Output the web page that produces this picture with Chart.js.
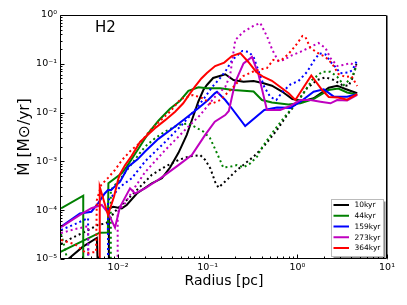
<!DOCTYPE html>
<html><head><meta charset="utf-8">
<script src="https://cdn.jsdelivr.net/npm/chart.js@4.4.0/dist/chart.umd.min.js"></script>
<style>html,body{margin:0;padding:0;background:#fff}canvas{display:block}</style>
</head><body>
<canvas id="c" width="407" height="305"></canvas>
<script>
const seriesLabels = ['10kyr','44kyr','159kyr','273kyr','364kyr'];
const seriesColors = ['#000000','#008000','#0000ff','#bf00bf','#ff0000'];
const xTickValues = [0.01, 0.1, 1, 10];
const yTickValues = [1e-5, 1e-4, 1e-3, 1e-2, 1e-1, 1];
const panelLabel = 'H2';

// 10 kyr
const r10s = [0.0026,0.00406,0.0058,0.0070,0.0079,0.0079,0.00886,0.011,0.0125,0.0162,0.0238,0.0308,0.038,0.0472,0.0584,0.0691,0.0785,0.0894,0.098,0.115,0.157,0.194,0.251,0.325,0.42,0.521,0.675,0.879,1.17,1.52,2.24,2.78,3.44,4.65];
const m10s = [9e-6,1.79e-5,2.7e-5,1e-9,1e-9,1.1e-4,1.18e-4,1.09e-4,1.28e-4,2.2e-4,3.56e-4,4.5e-4,7.5e-4,1.5e-3,3.5e-3,8.5e-3,0.0167,0.029,0.0368,0.0512,0.061,0.0466,0.043,0.0444,0.0398,0.0356,0.027,0.019,0.0173,0.0196,0.0324,0.0356,0.0305,0.0249];
const r10d = [0.00231,0.003,0.00425,0.00598,0.0074,0.00919,0.0104,0.0129,0.0169,0.0238,0.0335,0.0472,0.061,0.0824,0.0937,0.107,0.121,0.132,0.164,0.203,0.262,0.325,0.42,0.593,0.767,1.0,1.28,1.66,2.06,2.55,3.16,3.72,4.12,4.56];
const m10d = [2.03e-5,2.65e-5,3.6e-5,5.0e-5,5.4e-5,9.3e-5,1.18e-4,1.7e-4,2.8e-4,5.3e-4,7.8e-4,1.07e-3,1.25e-3,1.35e-3,1.07e-3,7.2e-4,3.8e-4,2.9e-4,4.2e-4,6.2e-4,9.1e-4,1.25e-3,2.0e-3,4.4e-3,8.9e-3,0.0167,0.0315,0.0466,0.0528,0.0466,0.0368,0.0351,0.0512,0.099];
// 44 kyr
const r44s = [0.00231,0.00409,0.00409,0.0022,0.0022,0.00625,0.0077,0.0078,0.011,0.0125,0.0168,0.0218,0.0282,0.038,0.0492,0.0609,0.079,0.098,0.138,0.194,0.325,0.403,0.521,0.793,1.08,1.51,2.22,2.87,3.59,4.64];
const m44s = [1.09e-4,1.98e-4,1e-9,1e-9,1.35e-5,3.46e-5,3.5e-5,3.56e-4,5.7e-4,7.8e-4,1.8e-3,3.8e-3,6.8e-3,0.012,0.0175,0.028,0.033,0.0315,0.0315,0.029,0.027,0.0181,0.0161,0.0147,0.0155,0.019,0.029,0.031,0.0258,0.0235];
const r44d = [0.00231,0.0025,0.0027,0.0027,0.0083,0.0083,0.0108,0.0136,0.0176,0.02,0.0258,0.0335,0.0472,0.061,0.0721,0.089,0.106,0.12,0.137,0.149,0.178,0.212,0.251,0.298,0.355,0.406,0.539,0.698,0.902,1.17,1.46,1.89,2.34,2.78,3.29,4.08,4.56];
const m44d = [3.25e-5,1.94e-5,1e-5,1e-9,1e-9,2.6e-4,4.6e-4,8.0e-4,1.5e-3,2.0e-3,2.97e-3,4.1e-3,5.6e-3,6.0e-3,5.1e-3,4.1e-3,3.0e-3,1.85e-3,1.07e-3,7.5e-4,7.8e-4,8.4e-4,7.6e-4,9.1e-4,1.25e-3,1.97e-3,4.1e-3,7.6e-3,0.0132,0.0249,0.0466,0.0689,0.0689,0.0544,0.0368,0.0524,0.090];
// 159 kyr
const r159s = [0.00231,0.00376,0.00504,0.00598,0.0071,0.00773,0.0084,0.00957,0.0105,0.013,0.0165,0.02,0.0282,0.0397,0.0558,0.0785,0.101,0.12,0.127,0.157,0.174,0.262,0.428,0.593,0.836,1.08,1.52,1.97,2.55,3.59,4.65];
const m159s = [4.6e-5,8.6e-5,9.3e-5,1.38e-4,2.2e-4,2.6e-4,2.6e-4,3.3e-4,3.8e-4,7.8e-4,1.1e-3,1.6e-3,2.9e-3,4.6e-3,7.5e-3,0.0123,0.0181,0.0248,0.0268,0.0181,0.0143,5.3e-3,0.0113,0.0127,0.0125,0.0167,0.0268,0.030,0.0212,0.0212,0.0237];
const r159d = [0.00231,0.00331,0.00463,0.00463,0.00773,0.00773,0.00886,0.0105,0.0142,0.02,0.0335,0.0515,0.0721,0.0937,0.112,0.138,0.161,0.188,0.243,0.287,0.325,0.376,0.428,0.499,0.582,0.679,0.836,1.03,1.28,1.55,1.76,2.06,2.34,2.66,3.02,3.74,4.12,4.56];
const m159d = [3.93e-5,5.2e-5,6.9e-5,1e-9,1e-9,1.6e-4,2.05e-4,3.0e-4,4.5e-4,1.0e-3,2.5e-3,5.6e-3,0.0113,0.0209,0.0335,0.0512,0.0746,0.12,0.183,0.175,0.138,0.0648,0.0335,0.0209,0.0181,0.0264,0.0377,0.0444,0.068,0.12,0.163,0.155,0.110,0.086,0.0638,0.0664,0.0746,0.110];
// 273 kyr
const r273s = [0.00231,0.00376,0.00504,0.00658,0.00773,0.00925,0.0105,0.0136,0.0155,0.02,0.0281,0.0335,0.0472,0.0665,0.0937,0.12,0.157,0.172,0.203,0.251,0.312,0.37,0.458,0.645,0.836,1.08,1.4,1.81,2.34,2.78,3.59,4.65];
const m273s = [4.5e-5,8.0e-5,1.1e-4,1.28e-4,8.8e-5,4.4e-5,1.16e-4,2.8e-4,2.2e-4,2.8e-4,4.2e-4,5.3e-4,8.4e-4,1.35e-3,3.5e-3,6.5e-3,8.9e-3,0.0108,0.0424,0.102,0.138,0.059,0.0113,0.0113,0.0137,0.0181,0.0181,0.0167,0.0155,0.0181,0.0177,0.023];
const r273d = [0.00231,0.00331,0.00463,0.0050,0.0099,0.0099,0.012,0.0155,0.02,0.0335,0.0558,0.0824,0.12,0.157,0.178,0.203,0.249,0.322,0.386,0.462,0.526,0.614,0.698,0.879,1.08,1.33,1.72,2.06,2.34,2.8,3.27,3.91,4.56];
const m273d = [3.4e-5,4.1e-5,4.7e-5,1e-9,1e-9,9.2e-5,1.4e-4,3.0e-4,6.0e-4,1.7e-3,4.4e-3,8.9e-3,0.0209,0.0335,0.059,0.307,0.449,0.595,0.686,0.354,0.192,0.114,0.12,0.151,0.175,0.211,0.267,0.211,0.131,0.090,0.0945,0.104,0.086];
// 364 kyr
const r364s = [0.00625,0.00625,0.00773,0.00902,0.01,0.0105,0.012,0.0142,0.0176,0.0218,0.0258,0.0335,0.0433,0.0533,0.0636,0.0721,0.085,0.098,0.121,0.153,0.186,0.231,0.284,0.348,0.42,0.521,0.645,0.8,0.95,1.43,1.89,2.24,2.84,3.59,4.65];
const m364s = [1e-9,3.0e-4,8.0e-5,1.9e-4,4.2e-4,5.5e-4,8.4e-4,1.3e-3,2.5e-3,3.6e-3,4.8e-3,7.0e-3,0.0104,0.0155,0.0248,0.034,0.05,0.065,0.090,0.106,0.144,0.166,0.109,0.068,0.0537,0.0449,0.0335,0.0249,0.0181,0.0576,0.029,0.0209,0.0204,0.0184,0.024];
const r364d = [0.00231,0.00331,0.00438,0.00568,0.0058,0.0065,0.00773,0.00925,0.0111,0.014,0.0176,0.0228,0.0294,0.0381,0.05,0.0689,0.0892,0.109,0.138,0.193,0.249,0.331,0.458,0.539,0.645,0.793,0.95,1.14,1.23,1.4,1.72,2.06,2.46,2.87,3.44,4.01,4.65];
const m364d = [2.45e-5,2.0e-5,1.33e-5,1.39e-5,1.6e-4,3.3e-4,4.6e-4,6.7e-4,1.07e-3,1.7e-3,2.4e-3,4.3e-3,6.8e-3,0.0105,0.019,0.023,0.0195,0.015,0.0181,0.0335,0.0562,0.0711,0.082,0.12,0.114,0.158,0.232,0.371,0.354,0.211,0.163,0.138,0.099,0.0618,0.0537,0.0562,0.0351];

const solidR = [r10s, r44s, r159s, r273s, r364s];
const solidM = [m10s, m44s, m159s, m273s, m364s];
const dotR = [r10d, r44d, r159d, r273d, r364d];
const dotM = [m10d, m44d, m159d, m273d, m364d];

const FONT = 'DejaVu Sans';
const supMap = {'-':'\u207B','0':'\u2070','1':'\u00B9','2':'\u00B2','3':'\u00B3','4':'\u2074','5':'\u2075'};
function powLabel(v){
  const e = String(Math.round(Math.log10(v)));
  return '10' + e.split('').map(c => supMap[c]).join('');
}
function pts(r, m){ return r.map((x, i) => ({x: x, y: m[i]})); }

const datasets = [];
for (let i = 0; i < seriesLabels.length; i++) {
  datasets.push({label: seriesLabels[i] + ' dotted', data: pts(dotR[i], dotM[i]), borderColor: seriesColors[i],
    borderWidth: 2, borderDash: [2, 3], borderCapStyle: 'butt', pointRadius: 0, tension: 0, fill: false, clip: 0});
  datasets.push({label: seriesLabels[i], data: pts(solidR[i], solidM[i]), borderColor: seriesColors[i],
    borderWidth: 2, pointRadius: 0, tension: 0, fill: false, clip: 0});
}
datasets.forEach((d, i) => { d.order = datasets.length - i; });

const decorPlugin = {
  id: 'decor',
  afterDatasetsDraw(chart) {
    const {ctx, chartArea: {left, right, top, bottom}, scales: {x, y}} = chart;
    ctx.save();
    ctx.strokeStyle = '#000';
    ctx.lineWidth = 1;
    const L = Math.round(left) - 0.5, R = Math.round(right) - 0.5, T = Math.round(top) + 0.5, B = Math.round(bottom) - 0.5;
    ctx.beginPath();
    ctx.moveTo(L, T); ctx.lineTo(R, T); ctx.lineTo(R, B); ctx.lineTo(L, B); ctx.closePath();
    ctx.stroke();
    ctx.strokeStyle = '#777';
    ctx.beginPath(); ctx.moveTo(R + 1, T); ctx.lineTo(R + 1, B + 1); ctx.stroke();
    ctx.strokeStyle = '#000';
    ctx.beginPath();
    for (let d = -3; d <= 1; d++) {
      for (let k = 1; k <= 9; k++) {
        const v = k * Math.pow(10, d);
        if (v < x.min * 0.999 || v > x.max * 1.001) continue;
        const px = Math.round(x.getPixelForValue(v)) + 0.5;
        const len = k === 1 ? 4 : 2;
        ctx.moveTo(px, B); ctx.lineTo(px, B - len);
      }
    }
    for (let d = -5; d <= 0; d++) {
      for (let k = 1; k <= 9; k++) {
        const v = k * Math.pow(10, d);
        if (v < y.min * 0.999 || v > y.max * 1.001) continue;
        const py = Math.round(y.getPixelForValue(v)) + 0.5;
        const len = k === 1 ? 4 : 2;
        ctx.moveTo(L, py); ctx.lineTo(L + len, py);
      }
    }
    ctx.stroke();
    ctx.restore();
  },
  afterDraw(chart) {
    const {ctx, chartArea: {left, right, top, bottom}} = chart;
    ctx.save();
    ctx.fillStyle = '#000';
    ctx.font = '15px "' + FONT + '"';
    ctx.textBaseline = 'alphabetic';
    ctx.textAlign = 'left';
    ctx.fillText(panelLabel, left + 34, top + 17);
    // legend
    const bw = 52, bh = 57;
    const bx = right - 55.5, by = bottom - 59.5;
    ctx.fillStyle = 'rgba(0,0,0,0.45)';
    ctx.fillRect(bx + 2, by + 2, bw, bh);
    ctx.fillStyle = '#fff';
    ctx.fillRect(bx, by, bw, bh);
    ctx.strokeStyle = '#bbb';
    ctx.lineWidth = 1;
    ctx.strokeRect(bx, by, bw, bh);
    ctx.font = '7.5px "' + FONT + '"';
    ctx.textBaseline = 'middle';
    for (let i = 0; i < seriesLabels.length; i++) {
      const yy = by + 5.5 + i * 10.75;
      ctx.strokeStyle = seriesColors[i];
      ctx.lineWidth = 2;
      ctx.beginPath(); ctx.moveTo(bx + 2, yy); ctx.lineTo(bx + 17.5, yy); ctx.stroke();
      ctx.fillStyle = '#000';
      ctx.fillText(seriesLabels[i], bx + 23, yy + 0.5);
    }
    ctx.restore();
  }
};

new Chart(document.getElementById('c'), {
  type: 'line',
  data: {datasets: datasets},
  options: {
    responsive: false, animation: false, devicePixelRatio: 1,
    layout: {padding: {top: 15, right: 20, left: 0, bottom: 0}},
    plugins: {legend: {display: false}, tooltip: {enabled: false}},
    scales: {
      x: {
        type: 'logarithmic', min: 0.00231, max: 10,
        grid: {display: false, drawTicks: false}, border: {display: false},
        afterBuildTicks: s => { s.ticks = xTickValues.map(v => ({value: v})); },
        afterFit: s => { s.height = 46; },
        ticks: {callback: v => powLabel(v), font: {family: FONT, size: 9.5}, color: '#000', padding: 3, autoSkip: false, maxRotation: 0},
        title: {display: true, text: 'Radius [pc]', font: {family: FONT, size: 14}, color: '#000', padding: {top: 0, bottom: 15.5}}
      },
      y: {
        type: 'logarithmic', min: 1e-5, max: 1,
        grid: {display: false, drawTicks: false}, border: {display: false},
        afterBuildTicks: s => { s.ticks = yTickValues.map(v => ({value: v})); },
        afterFit: s => { s.width = 61; },
        ticks: {callback: v => powLabel(v), font: {family: FONT, size: 9.5}, color: '#000', padding: 4, autoSkip: false},
        title: {display: true, text: 'Ṁ [M⊙/yr]', font: {family: FONT, size: 15.5}, color: '#000', padding: {top: 15.5, bottom: 0}}
      }
    }
  },
  plugins: [decorPlugin]
});
</script>
</body></html>
